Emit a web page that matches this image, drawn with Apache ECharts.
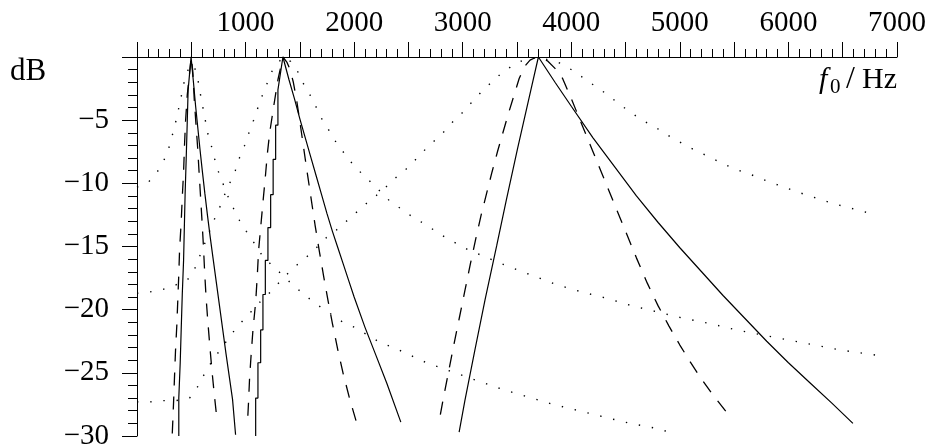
<!DOCTYPE html>
<html><head><meta charset="utf-8">
<script src="https://cdn.jsdelivr.net/npm/echarts@6/dist/echarts.min.js"></script>
<style>html,body{margin:0;padding:0;background:#fff}#c{width:930px;height:448px}</style>
</head><body><div id="c"></div>
<script>
// ---- data (frequency in Hz, level in dB) ----
const xTickLabels = [1000, 2000, 3000, 4000, 5000, 6000, 7000];
const yTickLabels = [-5, -10, -15, -20, -25, -30];

const g1Solid = [[385,-30],[385,-27.0],[398,-27.0],[398,-24.2],[407,-24.2],[407,-21.6],[417,-21.6],[417,-18.8],[429,-18.8],[429,-16.1],[436,-16.1],[436,-13.5],[443,-13.5],[443,-10.9],[453,-10.9],[453,-8.1],[462,-8.1],[462,-5.4],[471,-5.4],[471,-2.6],[498,0],
  [520,-2.0],[540,-3.9],[560,-5.6],[580,-7.3],[600,-8.9],[625,-10.8],[650,-12.6],[675,-14.3],[700,-15.9],[730,-17.8],[760,-19.7],[790,-21.6],[820,-23.5],[850,-25.3],[880,-27.1],[908,-29.9]];
const g1Dashed = [[325,-29.8],[337,-27.3],[346,-25.2],[355,-23.2],[367,-21.2],[376,-19.2],[385,-17.2],[392,-15.3],[407,-13.05],[417,-11.1],[429,-9.1],[438,-6.9],[447,-5.1],[463,-3.0],[500,0],
  [514,-1.15],[527,-3.3],[543,-5.3],[558,-7.1],[571,-9.0],[585,-11.0],[599,-13.0],[612,-15.0],[623,-17.0],[636,-19.0],[653,-21.0],[671,-22.9],[690,-24.8],[713,-26.8],[739,-28.9]];
const g1Dotted = [[0,-10.3],[106,-9.9],[186,-9.1],[247,-8.2],[290,-7.3],[325,-6.2],[355,-5.2],[383,-4.1],[408,-3.1],[431,-2.1],[468,-1.1],[498,0],
  [530,-0.8],[561,-1.8],[583,-2.9],[607,-4.0],[629,-5.0],[653,-6.1],[684,-7.0],[715,-8.05],[751,-9.1],[791,-10.0],[841,-11.1],[890,-12.0],[945,-12.95],[1007,-13.8],[1077,-14.7],[1145,-15.6],[1231,-16.4],[1320,-17.1],[1406,-17.8],[1498,-18.5],[1597,-19.2],[1692,-19.8],[1796,-20.4],[1897,-21.0],[2005,-21.4],[2220,-22.5],[2328,-22.9],[2441,-23.3],[2666,-24.2],[2897,-24.9],[3127,-25.6],[3363,-26.3],[3598,-26.9],[3834,-27.5],[4071,-28.0],[4304,-28.5],[4541,-29.0],[4787,-29.4],[4903,-29.7]];

const g2Solid = [[1093,-30],[1093,-27.0],[1114,-27.0],[1114,-24.2],[1139,-24.2],[1139,-21.6],[1160,-21.6],[1160,-18.8],[1182,-18.8],[1182,-16.1],[1206,-16.1],[1206,-13.5],[1231,-13.5],[1231,-10.9],[1254,-10.9],[1254,-8.1],[1277,-8.1],[1277,-5.4],[1298,-5.4],[1298,-2.6],[1344,0],
  [1400,-1.8],[1450,-3.3],[1500,-4.9],[1550,-6.4],[1600,-7.9],[1650,-9.4],[1700,-10.9],[1750,-12.4],[1800,-13.8],[1850,-15.1],[1900,-16.4],[1950,-17.7],[2000,-19.0],[2100,-21.4],[2200,-23.6],[2300,-25.8],[2430,-28.9]];
const g2Dashed = [[1021,-28.4],[1028,-27.2],[1037,-25.4],[1051,-23.6],[1068,-21.6],[1093,-19.4],[1108,-17.3],[1120,-15.3],[1139,-13.5],[1160,-11.5],[1180,-9.7],[1200,-7.7],[1222,-6.0],[1261,-3.8],[1298,-1.8],[1344,0],
  [1380,-0.4],[1410,-1.0],[1440,-2.0],[1470,-3.4],[1500,-5.1],[1530,-6.9],[1560,-8.7],[1600,-11.0],[1640,-13.3],[1680,-15.4],[1720,-17.4],[1760,-19.3],[1800,-21.1],[1850,-23.2],[1900,-25.1],[1960,-27.1],[2021,-28.9]];
const g2Dotted = [[0,-18.7],[115,-18.6],[238,-18.4],[355,-18.05],[468,-17.6],[530,-16.8],[576,-15.8],[622,-14.8],[668,-13.8],[715,-12.8],[767,-11.8],[807,-10.9],[859,-9.9],[905,-9.0],[945,-7.95],[991,-7.0],[1031,-6.0],[1074,-5.0],[1114,-4.0],[1154,-3.05],[1200,-2.05],[1247,-1.05],[1344,0],
  [1415,-0.35],[1483,-1.2],[1538,-2.2],[1597,-3.05],[1652,-4.0],[1708,-5.0],[1768,-5.8],[1837,-6.8],[1907,-7.6],[1984,-8.45],[2067,-9.2],[2153,-9.9],[2242,-10.65],[2328,-11.4],[2429,-12.0],[2528,-12.6],[2635,-13.15],[2736,-13.7],[2844,-14.3],[2952,-14.8],[3059,-15.3],[3174,-15.7],[3398,-16.5],[3628,-17.25],[3859,-18.0],[4096,-18.6],[4326,-19.1],[4562,-19.7],[4802,-20.2],[5042,-20.7],[5279,-21.1],[5518,-21.6],[5761,-22.0],[6001,-22.4],[6240,-22.8],[6484,-23.2],[6729,-23.5],[6846,-23.65]];

const g3Solid = [[2967,-29.7],[3020,-27.2],[3112,-23.2],[3206,-19.2],[3314,-14.9],[3402,-11.3],[3504,-7.3],[3628,-2.6],[3697,0],
  [3850,-2.0],[4000,-3.9],[4200,-6.4],[4400,-8.7],[4600,-11.0],[4800,-13.1],[5000,-15.1],[5200,-17.0],[5400,-18.9],[5600,-20.7],[5800,-22.5],[6000,-24.2],[6200,-25.8],[6400,-27.4],[6594,-29.0]];
const g3Dashed = [[2794,-28.3],[2820,-27.1],[2870,-24.9],[2920,-22.7],[2970,-20.6],[3020,-18.5],[3070,-16.4],[3120,-14.4],[3170,-12.5],[3220,-10.8],[3270,-9.1],[3320,-7.5],[3370,-6.0],[3420,-4.5],[3470,-3.1],[3520,-1.7],[3570,-0.75],[3620,-0.25],[3681,0],
  [3780,-0.3],[3850,-0.9],[3920,-1.7],[4000,-3.3],[4100,-5.4],[4200,-7.5],[4300,-9.6],[4400,-11.7],[4500,-13.8],[4600,-15.9],[4700,-17.9],[4800,-19.7],[4900,-21.3],[5000,-22.8],[5100,-24.2],[5200,-25.5],[5300,-26.7],[5447,-28.3]];
const g3Dotted = [[0,-27.3],[115,-27.3],[238,-27.2],[361,-27.2],[484,-27.0],[546,-26.3],[607,-25.3],[668,-24.4],[739,-23.5],[807,-22.7],[883,-21.8],[961,-21.0],[1037,-20.3],[1120,-19.5],[1206,-18.8],[1293,-18.0],[1376,-17.25],[1468,-16.5],[1560,-15.85],[1652,-15.1],[1744,-14.3],[1837,-13.7],[1929,-13.0],[2021,-12.3],[2113,-11.6],[2205,-10.96],[2298,-10.25],[2390,-9.5],[2482,-8.85],[2568,-8.1],[2657,-7.3],[2743,-6.6],[2829,-5.9],[2912,-5.1],[2998,-4.4],[3081,-3.6],[3167,-2.8],[3259,-2.05],[3342,-1.4],[3450,-0.73],[3557,-0.25],[3697,0],
  [3911,-0.52],[4013,-1.07],[4110,-1.65],[4209,-2.24],[4310,-2.84],[4409,-3.5],[4510,-4.16],[4608,-4.74],[4710,-5.27],[4817,-5.78],[4919,-6.36],[5027,-6.86],[5140,-7.39],[5248,-7.81],[5361,-8.29],[5472,-8.74],[5585,-9.11],[5700,-9.45],[5810,-9.85],[5924,-10.19],[6046,-10.57],[6161,-10.91],[6277,-11.22],[6394,-11.56],[6514,-11.83],[6631,-12.09],[6747,-12.36]];

// ---- rendering ----
const FONT = '"Liberation Serif", "Times New Roman", serif';
const chart = echarts.init(document.getElementById('c'), null, {renderer: 'canvas'});
const STYLES = {
  solid: {type: 'solid', width: 1.2},
  dashed: {type: [13, 11], width: 1.3},
  dotted: {type: [1.4, 11.8], width: 1.4}
};
function mk(data, kind) {
  return {type: 'line', data: data, showSymbol: false, symbol: 'none', smooth: false,
    lineStyle: Object.assign({color: '#000'}, STYLES[kind]), silent: true, animation: false};
}
const tickStyle = {color: '#000', width: 1};
chart.setOption({
  animation: false,
  backgroundColor: '#fff',
  grid: {left: 137, top: 57, right: 33, bottom: 12, containLabel: false, outerBoundsMode: 'none'},
  xAxis: {
    type: 'value', position: 'top', min: 0, max: 7000, interval: 500,
    axisLine: {show: true, lineStyle: {color: '#000', width: 1}},
    axisTick: {show: true, length: 15, lineStyle: tickStyle},
    minorTick: {show: true, splitNumber: 5, length: 8, lineStyle: tickStyle},
    splitLine: {show: false}, minorSplitLine: {show: false},
    axisLabel: {
      formatter: v => xTickLabels.indexOf(v) >= 0 ? String(v) : '',
      color: '#000', fontFamily: FONT, fontSize: 29, margin: 19, hideOverlap: false
    }
  },
  yAxis: {
    type: 'value', min: -30, max: 0, interval: 5,
    axisLine: {show: true, lineStyle: {color: '#000', width: 1}},
    axisTick: {show: true, length: 15, lineStyle: tickStyle},
    minorTick: {show: true, splitNumber: 5, length: 9, lineStyle: tickStyle},
    splitLine: {show: false}, minorSplitLine: {show: false},
    axisLabel: {
      formatter: v => yTickLabels.indexOf(v) >= 0 ? '\u2212' + Math.abs(v) : '',
      color: '#000', fontFamily: FONT, fontSize: 29, margin: 28, hideOverlap: false
    }
  },
  graphic: [
    {type: 'text', x: 10, y: 72, style: {text: 'dB', font: '31px ' + FONT, fill: '#000', align: 'left', verticalAlign: 'middle'}},
    {type: 'text', x: 819, y: 80, style: {text: 'f', font: 'italic 30px ' + FONT, fill: '#000', align: 'left', verticalAlign: 'middle'}},
    {type: 'text', x: 830, y: 87, style: {text: '0', font: '21px ' + FONT, fill: '#000', align: 'left', verticalAlign: 'middle'}},
    {type: 'text', x: 846, y: 80, style: {text: '/', font: '32px ' + FONT, fill: '#000', align: 'left', verticalAlign: 'middle'}},
    {type: 'text', x: 897, y: 80, style: {text: 'Hz', font: '30px ' + FONT, fill: '#000', align: 'right', verticalAlign: 'middle'}}
  ],
  series: [
    mk(g1Dotted, 'dotted'), mk(g2Dotted, 'dotted'), mk(g3Dotted, 'dotted'),
    mk(g1Dashed, 'dashed'), mk(g2Dashed, 'dashed'), mk(g3Dashed, 'dashed'),
    mk(g1Solid, 'solid'), mk(g2Solid, 'solid'), mk(g3Solid, 'solid')
  ]
});
</script>
</body></html>
